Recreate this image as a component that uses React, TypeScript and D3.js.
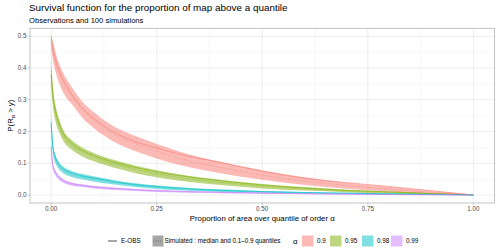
import React from "react";
import * as d3 from "d3";

// proportion of area (x) shared by all curves
const props = [0, 0.005, 0.01, 0.02, 0.03, 0.05, 0.075, 0.1, 0.15, 0.2, 0.25, 0.3, 0.35, 0.4, 0.5, 0.6, 0.7, 0.8, 0.9, 1];

const alphas = ["0.9", "0.95", "0.98", "0.99"];
const colors = ["#F8766D", "#7CAE00", "#00BFC4", "#C77CFF"];

// alpha = 0.9
const obs90 = [0.5, 0.46, 0.43, 0.39, 0.36, 0.315, 0.272, 0.242, 0.197, 0.168, 0.148, 0.13, 0.116, 0.103, 0.075, 0.053, 0.039, 0.027, 0.014, 0];
const med90 = [0.49, 0.45, 0.42, 0.38, 0.35, 0.31, 0.267, 0.236, 0.19, 0.162, 0.138, 0.117, 0.1, 0.087, 0.063, 0.044, 0.03, 0.019, 0.009, 0.001];
const lo90 = [0.46, 0.42, 0.39, 0.35, 0.32, 0.285, 0.242, 0.212, 0.167, 0.138, 0.115, 0.096, 0.081, 0.069, 0.048, 0.032, 0.02, 0.011, 0.004, 0];
const hi90 = [0.5, 0.48, 0.45, 0.41, 0.38, 0.338, 0.292, 0.262, 0.215, 0.186, 0.161, 0.139, 0.12, 0.105, 0.078, 0.056, 0.039, 0.026, 0.013, 0.002];

// alpha = 0.95
const obs95 = [0.38, 0.31, 0.27, 0.222, 0.192, 0.162, 0.14, 0.125, 0.103, 0.087, 0.073, 0.062, 0.053, 0.045, 0.032, 0.022, 0.015, 0.01, 0.005, 0];
const med95 = [0.39, 0.3, 0.26, 0.215, 0.185, 0.157, 0.135, 0.12, 0.098, 0.081, 0.067, 0.056, 0.047, 0.04, 0.028, 0.019, 0.013, 0.008, 0.004, 0];
const lo95 = [0.34, 0.27, 0.235, 0.195, 0.168, 0.142, 0.121, 0.107, 0.086, 0.069, 0.056, 0.046, 0.038, 0.032, 0.021, 0.014, 0.009, 0.005, 0.002, 0];
const hi95 = [0.44, 0.33, 0.285, 0.235, 0.202, 0.172, 0.149, 0.133, 0.11, 0.092, 0.078, 0.066, 0.056, 0.048, 0.035, 0.025, 0.017, 0.011, 0.006, 0.001];

// alpha = 0.98
const obs98 = [0.225, 0.145, 0.12, 0.095, 0.082, 0.069, 0.06, 0.054, 0.042, 0.033, 0.027, 0.022, 0.018, 0.015, 0.011, 0.008, 0.006, 0.004, 0.002, 0];
const med98 = [0.23, 0.14, 0.115, 0.09, 0.078, 0.065, 0.057, 0.051, 0.04, 0.031, 0.025, 0.02, 0.017, 0.014, 0.01, 0.007, 0.005, 0.003, 0.002, 0];
const lo98 = [0.2, 0.125, 0.102, 0.079, 0.068, 0.056, 0.049, 0.043, 0.033, 0.025, 0.019, 0.015, 0.012, 0.01, 0.007, 0.005, 0.003, 0.002, 0.001, 0];
const hi98 = [0.27, 0.155, 0.128, 0.101, 0.088, 0.075, 0.066, 0.059, 0.047, 0.037, 0.03, 0.025, 0.021, 0.018, 0.013, 0.01, 0.007, 0.005, 0.003, 0];

// alpha = 0.99
const obs99 = [0.15, 0.088, 0.072, 0.055, 0.046, 0.036, 0.03, 0.026, 0.021, 0.017, 0.014, 0.012, 0.01, 0.009, 0.006, 0.004, 0.003, 0.002, 0.001, 0];
const med99 = [0.15, 0.085, 0.07, 0.052, 0.043, 0.034, 0.029, 0.025, 0.02, 0.016, 0.013, 0.011, 0.009, 0.008, 0.006, 0.004, 0.003, 0.002, 0.001, 0];
const lo99 = [0.13, 0.077, 0.063, 0.046, 0.038, 0.029, 0.025, 0.021, 0.016, 0.013, 0.01, 0.008, 0.007, 0.006, 0.004, 0.003, 0.002, 0.001, 0, 0];
const hi99 = [0.19, 0.095, 0.078, 0.059, 0.049, 0.039, 0.034, 0.029, 0.024, 0.019, 0.016, 0.013, 0.011, 0.01, 0.008, 0.006, 0.004, 0.003, 0.002, 0];

const xTicks = [0, 0.25, 0.5, 0.75, 1];
const xTickLabels = ["0.00", "0.25", "0.50", "0.75", "1.00"];
const yTicks = [0, 0.1, 0.2, 0.3, 0.4, 0.5];
const yTickLabels = ["0.0", "0.1", "0.2", "0.3", "0.4", "0.5"];

const series = [
  { obs: obs90, med: med90, lo: lo90, hi: hi90 },
  { obs: obs95, med: med95, lo: lo95, hi: hi95 },
  { obs: obs98, med: med98, lo: lo98, hi: hi98 },
  { obs: obs99, med: med99, lo: lo99, hi: hi99 },
];

const W = 500;
const H = 252;
const panel = { left: 30, right: 494.5, top: 28.3, bottom: 203 };
const font = "'Liberation Sans', Arial, sans-serif";

export default function App() {
  const x = d3.scaleLinear().domain([-0.05, 1.05]).range([panel.left, panel.right]);
  const y = d3.scaleLinear().domain([-0.025, 0.525]).range([panel.bottom, panel.top]);

  const xMinor = [0.125, 0.375, 0.625, 0.875];
  const yMinor = [0.05, 0.15, 0.25, 0.35, 0.45];

  const line = (vals: number[]) =>
    d3.line<number>()
      .x((_, i) => x(props[i]))
      .y((d) => y(d))
      .curve(d3.curveMonotoneX)(vals) || "";

  const area = (lo: number[], hi: number[]) =>
    d3.area<number>()
      .x((_, i) => x(props[i]))
      .y0((_, i) => y(lo[i]))
      .y1((_, i) => y(hi[i]))
      .curve(d3.curveMonotoneX)(props) || "";

  const legY = 241;
  const keys = [302, 330, 362, 391];
  const keyLabels = [317, 345, 377, 406];

  return (
    <svg width={W} height={H} style={{ position: "absolute", left: 0, top: 0 }} fontFamily={font}>
      <rect width={W} height={H} fill="white" />
      <text x={29} y={11} fontSize={9.9} fill="black">
        Survival function for the proportion of map above a quantile
      </text>
      <text x={29} y={23} fontSize={7.6} fill="black">
        Observations and 100 simulations
      </text>

      {/* grid */}
      <g strokeWidth={0.35} stroke="#EBEBEB">
        {xMinor.map((d) => (
          <line key={"xm" + d} x1={x(d)} x2={x(d)} y1={panel.top} y2={panel.bottom} />
        ))}
        {yMinor.map((d) => (
          <line key={"ym" + d} y1={y(d)} y2={y(d)} x1={panel.left} x2={panel.right} />
        ))}
      </g>
      <g strokeWidth={0.6} stroke="#E3E3E3">
        {xTicks.map((d) => (
          <line key={"x" + d} x1={x(d)} x2={x(d)} y1={panel.top} y2={panel.bottom} />
        ))}
        {yTicks.map((d) => (
          <line key={"y" + d} y1={y(d)} y2={y(d)} x1={panel.left} x2={panel.right} />
        ))}
      </g>

      {/* ribbons */}
      {series.map((s, i) => (
        <path key={"a" + i} d={area(s.lo, s.hi)} fill={colors[i]} fillOpacity={0.5} stroke="none" />
      ))}
      {series.map((s, i) => (
        <g key={"l" + i}>
          <path d={line(s.med)} fill="none" stroke={colors[i]} strokeWidth={0.7} strokeDasharray="0.7 1.6" />
          <path d={line(s.obs)} fill="none" stroke={colors[i]} strokeWidth={0.6} />
        </g>
      ))}

      <rect
        x={panel.left}
        y={panel.top}
        width={panel.right - panel.left}
        height={panel.bottom - panel.top}
        fill="none"
        stroke="#B3B3B3"
        strokeWidth={0.8}
      />

      {/* axes */}
      {xTicks.map((d, i) => (
        <g key={"xt" + d}>
          <line x1={x(d)} x2={x(d)} y1={panel.bottom} y2={panel.bottom + 2.7} stroke="#B3B3B3" strokeWidth={0.6} />
          <text x={x(d)} y={211} fontSize={6.3} fill="#4D4D4D" textAnchor="middle">
            {xTickLabels[i]}
          </text>
        </g>
      ))}
      {yTicks.map((d, i) => (
        <g key={"yt" + d}>
          <line x1={panel.left - 2.7} x2={panel.left} y1={y(d)} y2={y(d)} stroke="#B3B3B3" strokeWidth={0.6} />
          <text x={26.5} y={y(d) + 2.2} fontSize={6.3} fill="#4D4D4D" textAnchor="end">
            {yTickLabels[i]}
          </text>
        </g>
      ))}
      <text x={(panel.left + panel.right) / 2} y={221} fontSize={7.8} textAnchor="middle" fill="black">
        Proportion of area over quantile of order α
      </text>
      <text
        transform={`translate(13,${(panel.top + panel.bottom) / 2}) rotate(-90)`}
        fontSize={7.8}
        textAnchor="middle"
        fill="black"
      >
        P(R<tspan fontSize={5.5} dy={2}>α</tspan>
        <tspan dy={-2}> &gt; y)</tspan>
      </text>

      {/* legend */}
      <line x1={108} x2={117} y1={legY} y2={legY} stroke="black" strokeWidth={0.7} />
      <text x={121} y={legY + 2.2} fontSize={6.3} fill="black">E-OBS</text>
      <rect x={152.5} y={legY - 5.5} width={11} height={11} fill="#A6A6A6" />
      <line x1={153.5} x2={162.5} y1={legY} y2={legY} stroke="#333" strokeWidth={0.7} strokeDasharray="0.7 1.6" />
      <text x={164.5} y={legY + 2.2} fontSize={6.3} fill="black">
        Simulated : median and 0.1–0.9 quantiles
      </text>
      <text x={293} y={legY + 2.5} fontSize={7.8} fill="black">α</text>
      {alphas.map((a, i) => (
        <g key={"k" + a}>
          <rect x={keys[i]} y={legY - 5.5} width={11.5} height={11} fill={colors[i]} fillOpacity={0.5} />
          <text x={keyLabels[i]} y={legY + 2.2} fontSize={6.3} fill="black">{a}</text>
        </g>
      ))}
    </svg>
  );
}
